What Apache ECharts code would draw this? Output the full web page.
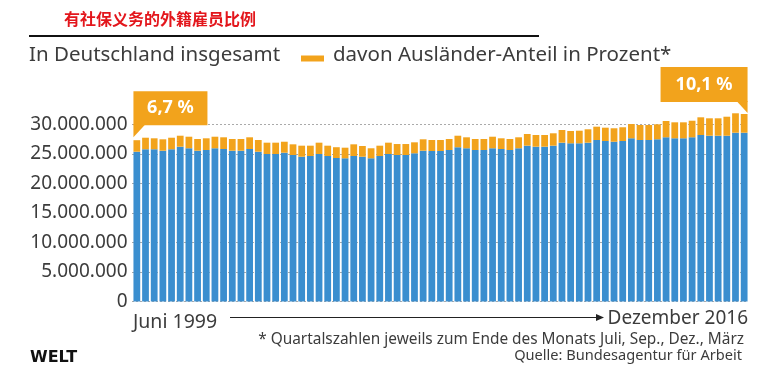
<!DOCTYPE html>
<html><head><meta charset="utf-8">
<script src="https://cdn.jsdelivr.net/npm/echarts@6/dist/echarts.min.js"></script>
<style>html,body{margin:0;padding:0;background:#fff}#c{width:780px;height:373px}</style>
</head><body><div id="c"></div>
<script>
// Quarterly categories (end of quarter), June 1999 .. December 2016
const categories = [
 "06/1999","09/1999","12/1999",
 "03/2000","06/2000","09/2000","12/2000","03/2001","06/2001","09/2001","12/2001",
 "03/2002","06/2002","09/2002","12/2002","03/2003","06/2003","09/2003","12/2003",
 "03/2004","06/2004","09/2004","12/2004","03/2005","06/2005","09/2005","12/2005",
 "03/2006","06/2006","09/2006","12/2006","03/2007","06/2007","09/2007","12/2007",
 "03/2008","06/2008","09/2008","12/2008","03/2009","06/2009","09/2009","12/2009",
 "03/2010","06/2010","09/2010","12/2010","03/2011","06/2011","09/2011","12/2011",
 "03/2012","06/2012","09/2012","12/2012","03/2013","06/2013","09/2013","12/2013",
 "03/2014","06/2014","09/2014","12/2014","03/2015","06/2015","09/2015","12/2015",
 "03/2016","06/2016","09/2016","12/2016"
];
// Employees without foreign nationality (millions) - blue
const germans = [
 25.39,25.80,25.80,25.56,25.80,26.24,25.97,25.56,25.68,25.97,25.85,25.56,25.56,25.85,25.39,25.00,
 25.00,25.22,24.83,24.54,24.66,25.00,24.66,24.32,24.27,24.66,24.54,24.27,24.66,25.00,24.83,24.83,
 25.12,25.56,25.51,25.51,25.68,26.14,25.97,25.68,25.68,25.97,25.85,25.68,25.97,26.41,26.24,26.24,
 26.41,26.92,26.81,26.81,26.92,27.37,27.20,27.08,27.20,27.66,27.37,27.37,27.49,27.83,27.66,27.66,
 27.83,28.22,28.10,28.10,28.10,28.61,28.61
];
// Foreign employees (millions) - orange
const foreigners = [
 1.95,1.96,1.86,1.93,1.96,1.86,1.96,1.98,1.98,1.96,1.98,1.98,1.98,1.98,1.98,1.92,
 1.92,1.86,1.81,1.87,1.75,1.92,1.75,1.83,1.80,1.98,1.82,1.70,1.75,1.92,1.86,1.86,
 1.86,1.93,1.86,1.86,1.86,1.96,1.86,1.86,1.86,1.96,1.81,1.86,1.86,1.98,1.98,1.98,
 2.10,2.15,2.09,2.14,2.27,2.26,2.26,2.28,2.33,2.42,2.55,2.55,2.54,2.76,2.71,2.71,
 2.81,3.00,2.95,2.95,3.22,3.29,3.17
];
const firstLabel = "6,7 %";
const lastLabel = "10,1 %";

const BLUE = '#3a8ecf', ORANGE = '#f2a31c', TXT = '#3c3c3c';
const FONT = '"Noto Sans", "DejaVu Sans", sans-serif';
const fmt = v => String(Math.round(v * 1e6)).replace(/\B(?=(\d{3})+(?!\d))/g, '.');

const chart = echarts.init(document.getElementById('c'), null, {renderer: 'canvas'});
chart.setOption({
  animation: false,
  backgroundColor: '#fff',
  grid: {left: 132.5, right: 31.5, top: 124.5, bottom: 71.5, containLabel: false},
  xAxis: {
    type: 'category', data: categories,
    axisLine: {show: false}, axisTick: {show: false}, axisLabel: {show: false}
  },
  yAxis: {
    type: 'value', min: 0, max: 30, interval: 5,
    axisLine: {show: false}, axisTick: {show: false},
    axisLabel: {formatter: fmt, fontSize: 19, color: TXT, fontFamily: FONT, margin: 5},
    splitLine: {show: true, lineStyle: {type: [1, 3], color: '#555', width: 1}}
  },
  series: [
    {name: 'In Deutschland insgesamt', type: 'bar', stack: 'a', data: germans,
     itemStyle: {color: BLUE}, barCategoryGap: '22%', clip: false},
    {name: 'davon Ausländer-Anteil in Prozent*', type: 'bar', stack: 'a', data: foreigners,
     itemStyle: {color: ORANGE}, barCategoryGap: '22%', clip: false}
  ]
});

// annotation boxes anchored to first and last bars
const n = categories.length;
const p0 = chart.convertToPixel({gridIndex: 0}, [0, germans[0] + foreigners[0]]);
const pN = chart.convertToPixel({gridIndex: 0}, [n - 1, germans[n-1] + foreigners[n-1]]);
const bw = 6.8;
const b0x = p0[0] - bw / 2, b0bottom = p0[1] - 15;
const bNx = pN[0] + bw / 2, bNbottom = pN[1] - 12;

chart.setOption({
  graphic: [
    {type: 'text', left: 64, top: 11, style: {text: '有社保义务的外籍雇员比例', fill: '#e3161c',
      font: 'bold 16px "Noto Sans CJK SC", sans-serif'}},
    {type: 'rect', shape: {x: 29, y: 35, width: 510, height: 2}, style: {fill: '#111'}},
    {type: 'text', left: 29, top: 45, style: {text: 'In Deutschland insgesamt', fill: TXT,
      font: '20.5px ' + FONT}},
    {type: 'rect', shape: {x: 301, y: 55.5, width: 23, height: 6}, style: {fill: ORANGE}},
    {type: 'text', left: 333, top: 45, style: {text: 'davon Ausländer-Anteil in Prozent*', fill: TXT,
      font: '20.5px ' + FONT}},
    // first annotation
    {type: 'rect', shape: {x: b0x, y: b0bottom - 34, width: 74, height: 34}, style: {fill: ORANGE}},
    {type: 'polygon', shape: {points: [[b0x, b0bottom - 1], [b0x + 12, b0bottom - 1], [b0x, p0[1] - 3]]}, style: {fill: ORANGE}},
    {type: 'text', x: b0x + 37, y: b0bottom - 17, style: {text: firstLabel, fill: '#fff',
      font: 'bold 18px ' + FONT, align: 'center', verticalAlign: 'middle'}},
    // last annotation
    {type: 'rect', shape: {x: bNx - 87, y: bNbottom - 35, width: 87, height: 35}, style: {fill: ORANGE}},
    {type: 'polygon', shape: {points: [[bNx - 11, bNbottom - 1], [bNx, bNbottom - 1], [bNx, pN[1] - 1]]}, style: {fill: ORANGE}},
    {type: 'text', x: bNx - 43.5, y: bNbottom - 17.5, style: {text: lastLabel, fill: '#fff',
      font: 'bold 18px ' + FONT, align: 'center', verticalAlign: 'middle'}},
    // time arrow
    {type: 'text', x: 133, y: 322, style: {text: 'Juni 1999', fill: TXT, font: '19.5px ' + FONT,
      verticalAlign: 'middle'}},
    {type: 'line', shape: {x1: 230, y1: 317.5, x2: 598, y2: 317.5}, style: {stroke: '#222', lineWidth: 1}},
    {type: 'polygon', shape: {points: [[596, 314], [604, 317.5], [596, 321]]}, style: {fill: '#222'}},
    {type: 'text', x: 748, y: 319, style: {text: 'Dezember 2016', fill: TXT, font: '19px ' + FONT,
      align: 'right', verticalAlign: 'middle'}},
    {type: 'text', x: 744, y: 340, style: {text: '* Quartalszahlen jeweils zum Ende des Monats Juli, Sep., Dez., März',
      fill: TXT, font: '15.4px ' + FONT, align: 'right', verticalAlign: 'middle'}},
    {type: 'text', x: 742, y: 356, style: {text: 'Quelle: Bundesagentur für Arbeit',
      fill: TXT, font: '14.6px ' + FONT, align: 'right', verticalAlign: 'middle'}},
    {type: 'text', x: 30, y: 358, style: {text: 'WELT', fill: '#111',
      font: '900 16px "DejaVu Sans", sans-serif', verticalAlign: 'middle'}}
  ]
});
</script></body></html>
